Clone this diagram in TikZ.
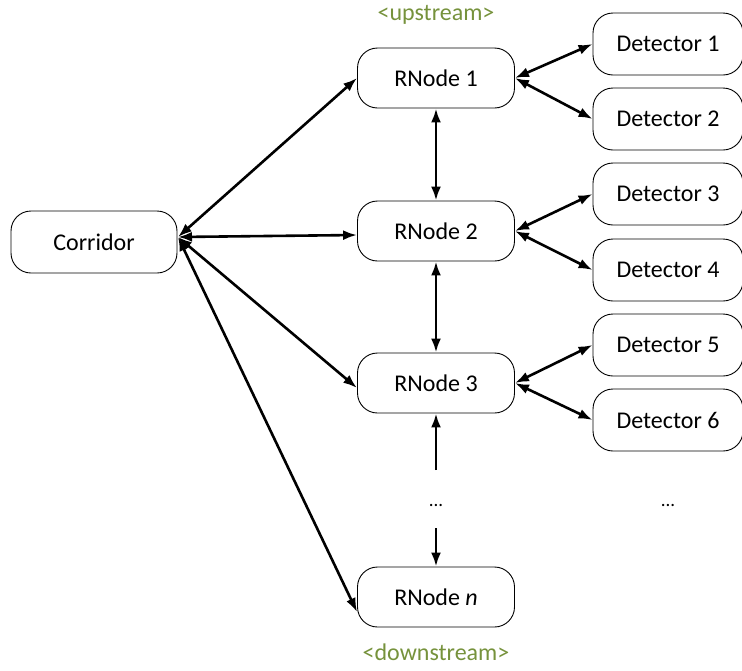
\documentclass[tikz,border=0pt]{standalone}
\usepackage{fontspec}
\setmainfont{Carlito}
\usetikzlibrary{arrows.meta}
\definecolor{streamgreen}{RGB}{118,146,60}
\begin{document}
\begin{tikzpicture}[x=1pt,y=-1pt,
  box/.style={draw=black,line width=0.9pt,rounded corners=20pt,minimum width=157pt,minimum height=60pt,inner sep=0pt,font=\fontsize{24}{28}\selectfont},
  detbox/.style={box,minimum width=150pt,minimum height=62pt},
  conn/.style={line width=2.6pt,{Latex[length=14pt,width=10pt]}-{Latex[length=14pt,width=10pt]}},
  oneway/.style={line width=2.6pt,-{Latex[length=14pt,width=10pt]}},
  lbl/.style={font=\fontsize{24}{28}\selectfont,text=streamgreen}]
\useasboundingbox (0,0) rectangle (742,670);
\node[box,minimum width=166pt,minimum height=62pt] (cor) at (94,242) {Corridor};
\node[box] (r1) at (436,78) {RNode 1};
\node[box] (r2) at (436,231) {RNode 2};
\node[box] (r3) at (436,383) {RNode 3};
\node[box] (rn) at (436,597) {RNode \textit{n}};
\node[detbox] (d1) at (668,44) {Detector 1};
\node[detbox] (d2) at (668,119) {Detector 2};
\node[detbox] (d3) at (668,194) {Detector 3};
\node[detbox] (d4) at (668,270) {Detector 4};
\node[detbox] (d5) at (668,345) {Detector 5};
\node[detbox] (d6) at (668,420) {Detector 6};
\node[lbl] (up) at (436,15) {<upstream>};
\node[lbl] (down) at (436,652) {<downstream>};
\node[font=\fontsize{19}{22}\selectfont] (dots1) at (436,505) {...};
\node[font=\fontsize{19}{22}\selectfont] (dots2) at (668,505) {...};
\coordinate (cp) at (178,237);
\coordinate (dtop) at (436,470);
\coordinate (dbot) at (436,528);
\draw[conn] (cp) -- (r1.west);
\draw[conn] (cp) -- ([yshift=-4pt]r2.west);
\draw[conn] (cp) -- ([yshift=-5pt]r3.west);
\draw[conn] (cp) -- ([yshift=-15pt]rn.west);
\draw[conn] (r1.south) -- (r2.north);
\draw[conn] (r2.south) -- (r3.north);
\draw[oneway] (dtop) -- (r3.south);
\draw[oneway] (dbot) -- (rn.north);
\draw[conn] (r1.east) -- (d1.west);
\draw[conn] (r1.east) -- (d2.west);
\draw[conn] (r2.east) -- (d3.west);
\draw[conn] (r2.east) -- (d4.west);
\draw[conn] (r3.east) -- (d5.west);
\draw[conn] (r3.east) -- (d6.west);
\end{tikzpicture}
\end{document}
